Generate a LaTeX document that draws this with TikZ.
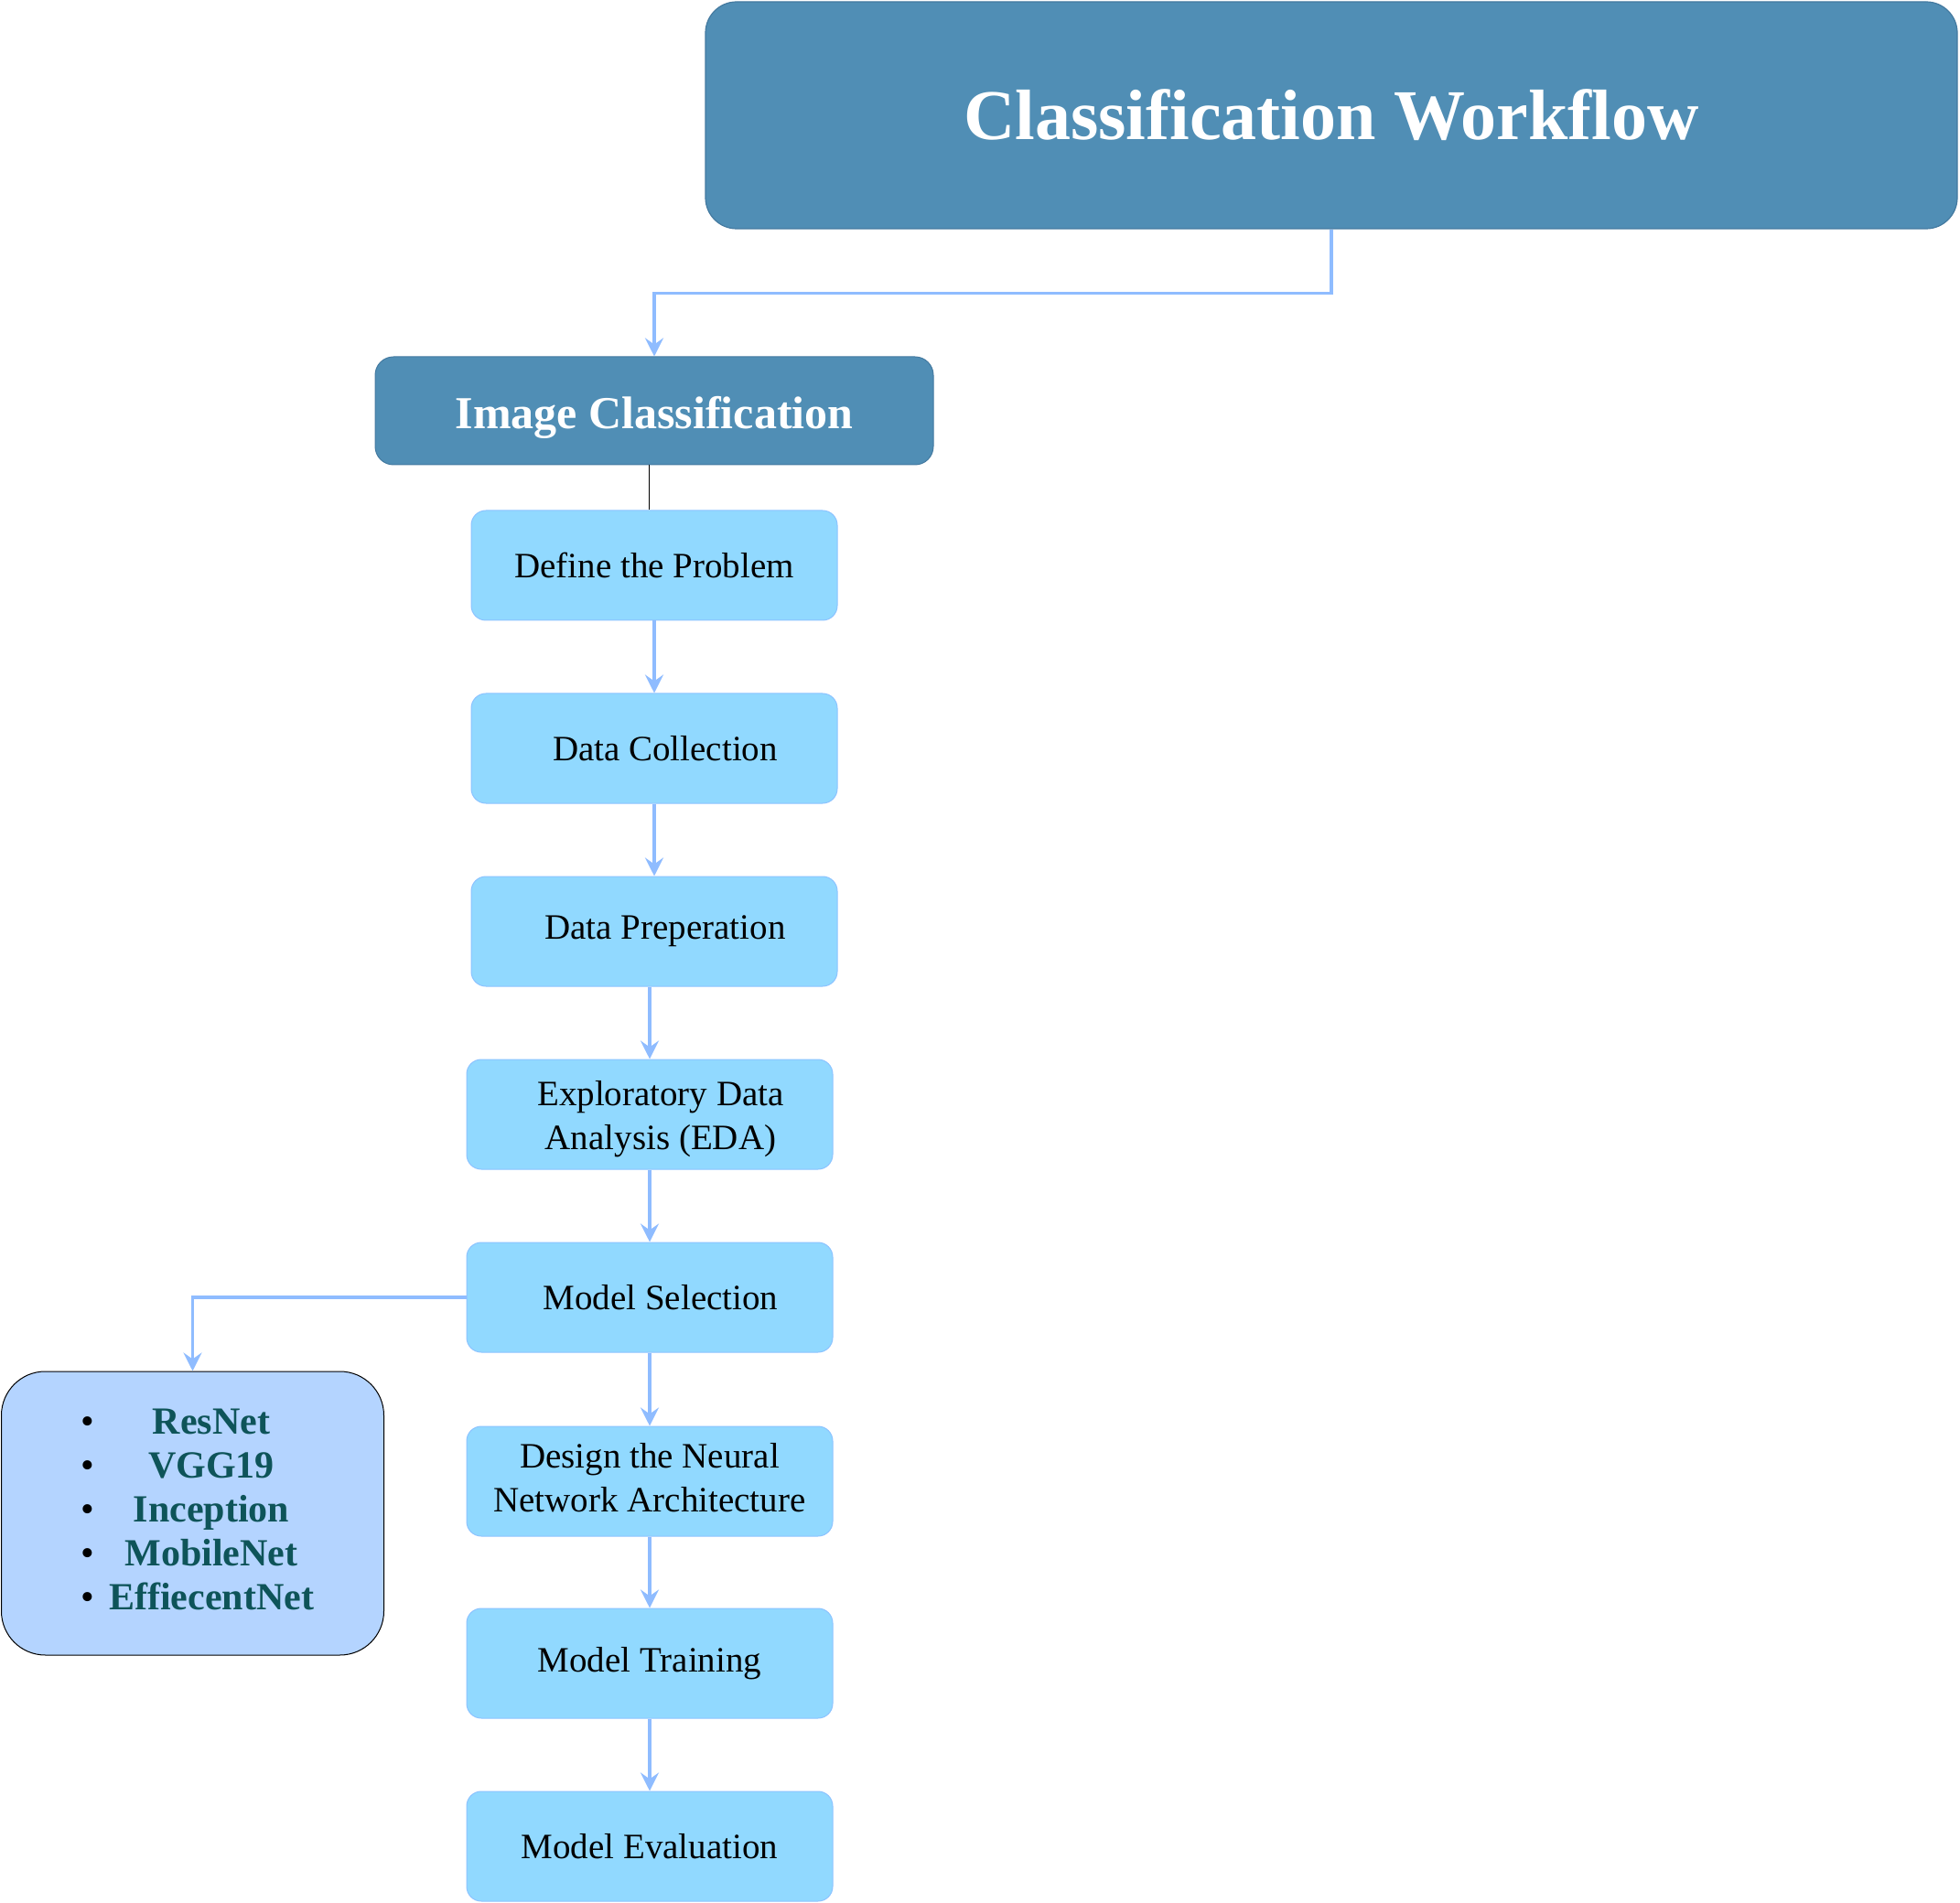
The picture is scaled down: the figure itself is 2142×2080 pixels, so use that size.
\documentclass[tikz,border=0pt]{standalone}
\usepackage{fontspec}
\usepackage{array}
\setmainfont{Liberation Serif}
\usetikzlibrary{arrows.meta}
\definecolor{titlefill}{RGB}{80,142,181}
\definecolor{titledraw}{RGB}{68,122,160}
\definecolor{stepfill}{RGB}{145,217,255}
\definecolor{stepdraw}{RGB}{140,195,255}
\definecolor{listfill}{RGB}{180,212,255}
\definecolor{arrowcol}{RGB}{143,188,255}
\definecolor{listtext}{RGB}{14,84,89}
\tikzset{
  titlebox/.style={draw=titledraw, fill=titlefill, line width=0.6pt, rounded corners=17pt,
    minimum width=684pt, minimum height=124pt, inner sep=0pt, text=white,
    font=\fontsize{39}{44}\selectfont\bfseries},
  headbox/.style={draw=titledraw, fill=titlefill, line width=0.5pt, rounded corners=10pt,
    minimum width=305pt, minimum height=59pt, inner sep=0pt, text=white,
    font=\fontsize{25}{30}\selectfont\bfseries},
  stepbox/.style={draw=stepdraw, fill=stepfill, line width=0.5pt, rounded corners=8pt,
    minimum width=200pt, minimum height=60pt, inner sep=0pt, text=black,
    font=\fontsize{19.5}{24}\selectfont},
  listbox/.style={draw=black, fill=listfill, line width=0.5pt, rounded corners=24pt,
    minimum width=209pt, minimum height=155pt, inner sep=0pt},
  arr/.style={draw=arrowcol, line width=1.8pt, -{Stealth[length=10pt,width=10pt,inset=3.5pt]}},
}
\begin{document}
\begin{tikzpicture}[x=0.5pt,y=-0.5pt]
\useasboundingbox (0,0) rectangle (2142,2080);

\node[titlebox] (title) at (1455,126) {Classification Workflow};
\node[headbox] (img) at (715,449) {\raisebox{-10pt}[0pt][0pt]{Image Classification}};

\node[stepbox] (s1) at (715,618) {Define the Problem};
\node[stepbox] (s2) at (715,818) {\hspace*{12pt}Data Collection};
\node[stepbox] (s3) at (715,1018) {\hspace*{12pt}Data Preperation};
\node[stepbox] (s4) at (710,1218) {\hspace*{12pt}\raisebox{-7.5pt}[0pt][0pt]{\begin{tabular}{@{}c@{}}Exploratory Data\\Analysis (EDA)\end{tabular}}};
\node[stepbox] (s5) at (710,1418) {\hspace*{12pt}Model Selection};
\node[stepbox] (s6) at (710,1619) {\begin{tabular}{@{}c@{}}Design the Neural\\Network Architecture\end{tabular}};
\node[stepbox] (s7) at (710,1818) {Model Training};
\node[stepbox] (s8) at (710,2018) {Model Evaluation};

\node[listbox] (list) at (210.5,1654) {};
\node[anchor=west, inner sep=0pt, font=\fontsize{21}{24}\selectfont] (items) at (88,1654)
  {\begin{tabular}{@{}l@{\hspace{8pt}}>{\color{listtext}\bfseries}c@{}}
   \textbullet & ResNet\\
   \textbullet & VGG19\\
   \textbullet & Inception\\
   \textbullet & MobileNet\\
   \textbullet & EffiecentNet
   \end{tabular}};

\draw[arr] (title.south) -- ++(0,70) -| (img.north);
\draw[black, line width=0.5pt] ([xshift=-3pt]img.south) -- ([xshift=-3pt]s1.north);
\draw[arr] (s1) -- (s2);
\draw[arr] (s2) -- (s3);
\draw[arr] (s3.south -| s4.north) -- (s4.north);
\draw[arr] (s4) -- (s5);
\draw[arr] (s5) -- (s6);
\draw[arr] (s6) -- (s7);
\draw[arr] (s7) -- (s8);
\draw[arr] (s5.west) -| (list.north);
\end{tikzpicture}
\end{document}
